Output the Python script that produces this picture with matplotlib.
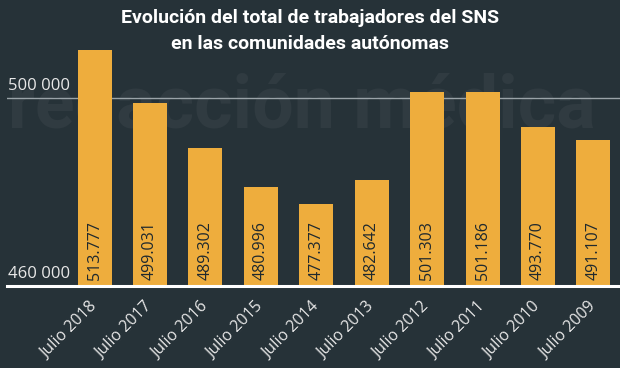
import matplotlib
matplotlib.use("Agg")
import matplotlib.pyplot as plt
import numpy as np

categories = ["Julio 2018", "Julio 2017", "Julio 2016", "Julio 2015", "Julio 2014",
              "Julio 2013", "Julio 2012", "Julio 2011", "Julio 2010", "Julio 2009"]
values = [513777, 499031, 489302, 480996, 477377, 482642, 501303, 501186, 493770, 491107]
value_labels = ["513.777", "499.031", "489.302", "480.996", "477.377",
                "482.642", "501.303", "501.186", "493.770", "491.107"]
ytick_values = [460000, 500000]
ytick_labels = ["460 000", "500 000"]
title_lines = ["Evolución del total de trabajadores del SNS", "en las comunidades autónomas"]
watermark = "redacción médica"

BG = "#263238"
BAR = "#EEAD3D"
W, H = 620, 368

fig = plt.figure(figsize=(W / 100, H / 100), dpi=100, facecolor=BG)
ax = fig.add_axes([7 / W, (H - 286) / H, (620 - 7) / W, (286 - 50) / H])
ax.set_facecolor("none")

x = np.arange(len(categories))
ax.bar(x, values, width=0.614, color=BAR, zorder=2)
ax.set_ylim(460000, 510200)
ax.set_xlim(-1.58, 9.48)
for s in ax.spines.values():
    s.set_visible(False)
ax.axhline(500000, color="#9aa3a8", lw=1, zorder=1)
ax.axhline(460000, color="white", lw=2.2, zorder=3, clip_on=False)
ax.set_yticks([])
ax.set_xticks(x)
ax.set_xticklabels(categories, rotation=45, ha="right", va="center",
                   rotation_mode="anchor", color="#e8e8e8", fontsize=11.5,
                   family="Open Sans")
ax.tick_params(axis="x", length=0, pad=13)

for yv, lab in zip(ytick_values, ytick_labels):
    ax.annotate(lab, xy=(0, yv), xycoords=("axes fraction", "data"),
                xytext=(0.5, 3), textcoords="offset points", ha="left", va="bottom",
                color="#e8e8e8", fontsize=12, family="Open Sans", zorder=4)

for xi, lab in zip(x, value_labels):
    ax.annotate(lab, xy=(xi, 460000), xytext=(0, 4), textcoords="offset points",
                rotation=90, ha="center", va="bottom", color="#1f292e",
                fontsize=11.5, family="Open Sans", zorder=4)

fig.text(0.5, 1 - 18 / H, title_lines[0], ha="center", va="center", color="white",
         fontsize=14, fontweight="bold", family="Roboto")
fig.text(0.5, 1 - 44 / H, title_lines[1], ha="center", va="center", color="white",
         fontsize=14, fontweight="bold", family="Roboto")

fig.text(8 / W, 1 - 128 / H, watermark, ha="left", va="baseline", fontsize=53,
         fontweight="bold", family="Roboto", color="#303b41", zorder=-1)

fig.savefig("out.png", dpi=100, facecolor=BG)
